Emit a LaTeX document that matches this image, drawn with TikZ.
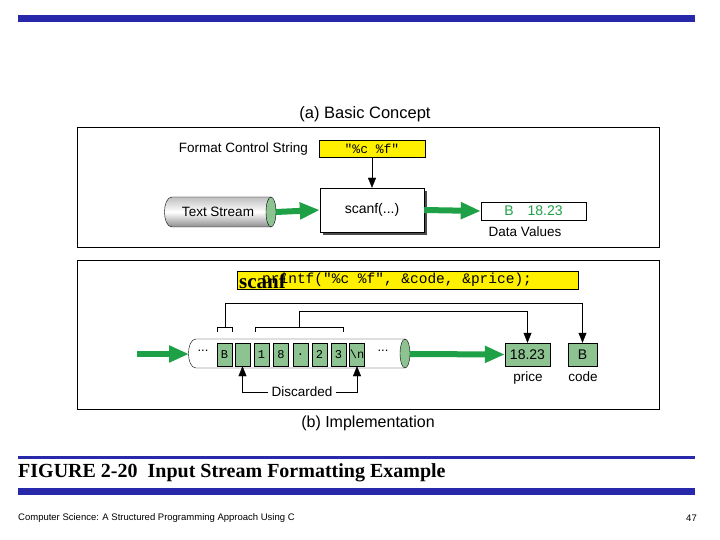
\documentclass[tikz,border=0pt]{standalone}
\usepackage{fontspec}
\setmainfont{Liberation Sans}
\newfontfamily\serif{Liberation Serif}
\newfontfamily\mono{Liberation Mono}
\usetikzlibrary{arrows.meta,shapes.geometric}
\definecolor{bar}{RGB}{40,40,170}
\definecolor{gfill}{RGB}{140,195,145}
\definecolor{garrow}{RGB}{30,160,70}
\definecolor{yel}{RGB}{255,240,0}
\begin{document}
\begin{tikzpicture}[x=1pt,y=-1pt,
  lbl/.style={font=\fontsize{13.5}{15}\selectfont,inner sep=0},
  cell/.style={draw,fill=gfill,minimum width=15pt,minimum height=23pt,inner sep=0,font=\mono\fontsize{12}{14}\selectfont},
  garr/.style={garrow,line width=6pt,-{Triangle[length=20pt,width=16pt]}},
  karr/.style={-{Triangle[length=10pt,width=8pt]}},
  frame/.style={draw,line width=0.8pt}]
\useasboundingbox (0,0) rectangle (720,540);
\fill[bar] (18,15) rectangle (695,22);
\fill[bar] (18,456) rectangle (695,459);
\fill[bar] (18,488) rectangle (695,495);
% (a)
\node[font=\fontsize{16.5}{18}\selectfont] (ta) at (365,114) {(a) Basic Concept};
\draw[frame] (77,127) rectangle (659,247);
\node[lbl,anchor=east] (fcs) at (308,149) {Format Control String};
\node[draw,fill=yel,minimum width=106pt,minimum height=17pt,inner sep=0,font=\mono\fontsize{13}{14}\selectfont] (fmt) at (372,148.5) {"\%c \%f"};
\fill[black!70] (323,191) rectangle (427,235);
\node[draw,fill=white,minimum width=104pt,minimum height=44pt,inner sep=0,font=\fontsize{14}{16}\selectfont] (scf) at (372,210) {scanf(...)};
\draw[karr] (fmt.south) -- (scf.north);
% cylinder a
\shade[top color=gray!50,bottom color=gray!90,middle color=white] (172,197) -- (271,197) -- (271,227) -- (172,227) .. controls (162,227) and (162,197) .. (172,197) -- cycle;
\draw (172,197) -- (271,197) (271,227) -- (172,227) .. controls (162,227) and (162,197) .. (172,197);
\draw[fill=gfill] (271,212) ellipse[x radius=5,y radius=15];
\node[lbl] (ts) at (218,212) {Text Stream};
\coordinate (tsr) at (276,212);
\draw[garr] (tsr) -- (scf.west);
\node[draw,minimum width=105pt,minimum height=18pt,inner sep=0,text=garrow,font=\fontsize{14}{16}\selectfont] (dv) at (533.5,211) {B\hspace{14pt}18.23};
\draw[garr] (scf.east) -- (dv.west);
\node[lbl] (dvl) at (525,232) {Data Values};
% (b)
\draw[frame] (77,260) rectangle (659,409);
\node[draw,fill=yel,minimum width=341pt,minimum height=18pt,inner sep=0] (ban) at (407.5,280) {};
\node[anchor=west,inner sep=0,font=\mono\fontsize{14.5}{15}\selectfont] (bt) at (262,280) {printf("\%c \%f", \&code, \&price);};
\node[anchor=west,inner sep=0,font=\serif\bfseries\fontsize{21}{22}\selectfont] (sc) at (239,281) {scanf};
% cylinder b
\draw[fill=white] (196,339) -- (405,339) -- (405,368) -- (196,368) .. controls (186,368) and (186,339) .. (196,339) -- cycle;
\draw[fill=gfill] (405,353.5) ellipse[x radius=5,y radius=14.5];
\node[inner sep=0,font=\fontsize{13}{14}\selectfont] (d1) at (203,351) {...};
\node[inner sep=0,font=\fontsize{13}{14}\selectfont] (d2) at (383,351) {...};
\node[cell] (cB) at (224.5,354.5) {B};
\node[cell] (cs) at (242.5,354.5) {};
\node[cell] (c1) at (261.5,354.5) {1};
\node[cell] (c8) at (281,354.5) {8};
\node[cell] (cd) at (300.5,354.5) {.};
\node[cell] (c2) at (319.5,354.5) {2};
\node[cell] (c3) at (338.5,354.5) {3};
\node[cell] (cn) at (357,354.5) {\textbackslash n};
\coordinate (inL) at (137,354);
\coordinate (inR) at (189,354);
\draw[garr] (inL) -- (inR);
\node[draw,fill=gfill,minimum width=45pt,minimum height=23pt,inner sep=0,font=\fontsize{14}{16}\selectfont] (pr) at (527.5,354.5) {18.23};
\node[draw,fill=gfill,minimum width=29pt,minimum height=23pt,inner sep=0,font=\fontsize{14}{16}\selectfont] (cd2) at (582.5,354.5) {B};
\coordinate (outL) at (410,354);
\draw[garr] (outL) -- (pr.west);
\node[lbl] (prl) at (528,378) {price};
\node[lbl] (cdl) at (583,377) {code};
% brackets
\draw (217,332) -- (217,327) -- (232,327) -- (232,332);
\draw[karr] (225,327) -- (225,303) -- (cd2.north |- 0,303) -- (cd2.north);
\draw (255,332) -- (255,327) -- (343,327) -- (343,332);
\draw[karr] (299,327) -- (299,311) -- (pr.north |- 0,311) -- (pr.north);
% discarded
\node[lbl,inner xsep=3pt] (dis) at (302,392) {Discarded};
\draw[karr] (dis.west) -- (cs.south |- dis.west) -- (cs.south);
\draw[karr] (dis.east) -- (cn.south |- dis.east) -- (cn.south);
\node[font=\fontsize{16}{18}\selectfont] (tb) at (368,423) {(b) Implementation};
% caption
\node[anchor=west,inner sep=0,font=\serif\bfseries\fontsize{20}{22}\selectfont] (cap) at (18,473) {FIGURE 2-20\ \ Input Stream Formatting Example};
\node[anchor=west,inner sep=0,font=\fontsize{9.5}{10}\selectfont] (ft) at (18,518) {Computer Science: A Structured Programming Approach Using C};
\node[anchor=east,inner sep=0,font=\fontsize{9.5}{10}\selectfont] (pg) at (697,518) {47};
\end{tikzpicture}
\end{document}
